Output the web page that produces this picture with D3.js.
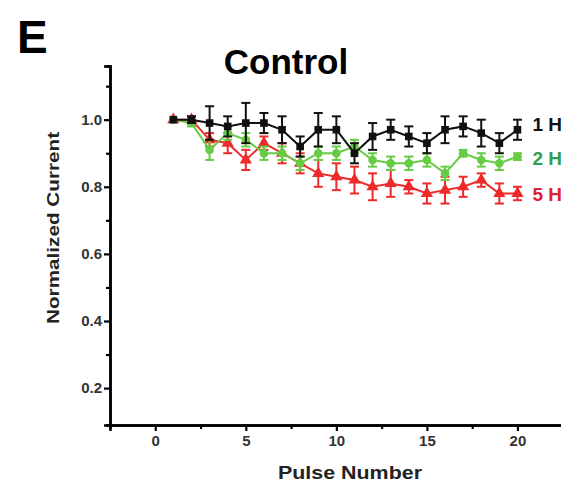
<!DOCTYPE html>
<html>
<head>
<meta charset="utf-8">
<script src="https://cdn.jsdelivr.net/npm/d3@7"></script>
<style>
  body { margin: 0; background: #fff; }
  svg { display: block; font-family: "Liberation Sans", Arial, sans-serif; }
</style>
</head>
<body>
<svg id="chart"></svg>
<script>
const pulses = d3.range(1, 21);

const hz1 = [1.00, 1.00, 0.99, 0.98, 0.99, 0.99, 0.97, 0.92, 0.97, 0.97, 0.90, 0.95, 0.97, 0.95, 0.93, 0.97, 0.98, 0.96, 0.93, 0.97];
const hz1Err = [0.00, 0.01, 0.05, 0.03, 0.06, 0.03, 0.04, 0.03, 0.05, 0.04, 0.03, 0.04, 0.03, 0.03, 0.03, 0.04, 0.03, 0.04, 0.03, 0.03];

const hz2 = [1.00, 0.99, 0.91, 0.96, 0.94, 0.90, 0.90, 0.87, 0.90, 0.90, 0.92, 0.88, 0.87, 0.87, 0.88, 0.84, 0.90, 0.88, 0.87, 0.89];
const hz2Err = [0.00, 0.01, 0.03, 0.02, 0.02, 0.02, 0.02, 0.02, 0.02, 0.02, 0.02, 0.02, 0.02, 0.02, 0.02, 0.02, 0.01, 0.02, 0.02, 0.01];

const hz5 = [1.00, 1.00, 0.94, 0.93, 0.88, 0.93, 0.90, 0.87, 0.84, 0.83, 0.82, 0.80, 0.81, 0.80, 0.78, 0.79, 0.80, 0.82, 0.78, 0.78];
const hz5Err = [0.00, 0.01, 0.02, 0.03, 0.03, 0.02, 0.03, 0.03, 0.04, 0.04, 0.04, 0.04, 0.04, 0.02, 0.03, 0.04, 0.03, 0.02, 0.03, 0.02];

const seriesNames = ['1 Hz', '2 Hz', '5 Hz'];
const yTicks = [0.2, 0.4, 0.6, 0.8, 1.0];
const xTicks = [0, 5, 10, 15, 20, 25];

const series = [
  { name: seriesNames[0], values: hz1, err: hz1Err, color: '#111', label: '#111', shape: d3.symbolSquare, dy: 1 },
  { name: seriesNames[1], values: hz2, err: hz2Err, color: '#66cc44', label: '#2e9e50', shape: d3.symbolCircle, dy: 8 },
  { name: seriesNames[2], values: hz5, err: hz5Err, color: '#ee2a2a', label: '#dd2233', shape: d3.symbolTriangle, dy: 8 }
];

const svg = d3.select('#chart').attr('width', 561).attr('height', 482);

// 1.0 -> 120px, 0.2 -> 389px
const y = d3.scaleLinear().domain([0.09, 1.16]).range([425, 66]);
const x = d3.scaleLinear().domain([-2.5, 25]).range([110, 608]);

// panel letter and title
svg.append('text').attr('x', 17).attr('y', 53)
  .style('font-size', '46px').style('font-weight', 'bold').text('E');
svg.append('text').attr('x', 286).attr('y', 74).attr('text-anchor', 'middle')
  .style('font-size', '35px').style('font-weight', 'bold').text('Control');

// axes
const yAxis = d3.axisLeft(y).tickValues(yTicks).tickSize(6).tickPadding(2).tickFormat(d3.format('.1f'));
const yMinor = d3.axisLeft(y).tickValues([0.3, 0.5, 0.7, 0.9, 1.1]).tickSize(4).tickFormat('');
const xAxis = d3.axisBottom(x).tickValues(xTicks).tickSize(6).tickPadding(4).tickFormat(d3.format('d'));
const xMinor = d3.axisBottom(x).tickValues([2.5, 7.5, 12.5, 17.5, 22.5]).tickSize(4).tickFormat('');

function styleAxis(g) {
  g.select('.domain').attr('stroke', '#000').attr('stroke-width', 2.5);
  g.selectAll('.tick line').attr('stroke', '#000').attr('stroke-width', 2.2);
  g.selectAll('.tick text').style('font-size', '15px').style('font-weight', 'bold')
    .attr('fill', '#333');
}

svg.append('g').attr('transform', `translate(${x.range()[0]},0)`).call(yMinor).call(styleAxis);
svg.append('g').attr('transform', `translate(${x.range()[0]},0)`).call(yAxis).call(styleAxis);
svg.append('g').attr('transform', `translate(0,${y.range()[0]})`).call(xMinor).call(styleAxis);
svg.append('g').attr('transform', `translate(0,${y.range()[0]})`).call(xAxis).call(styleAxis);

svg.append('text').attr('transform', 'translate(59,228) rotate(-90)').attr('text-anchor', 'middle')
  .attr('textLength', 192).attr('lengthAdjust', 'spacingAndGlyphs')
  .style('font-size', '17px').style('font-weight', 'bold').attr('fill', '#222').text('Normalized Current');
svg.append('text').attr('x', 350).attr('y', 479).attr('text-anchor', 'middle')
  .attr('textLength', 144).attr('lengthAdjust', 'spacingAndGlyphs')
  .style('font-size', '18px').style('font-weight', 'bold').attr('fill', '#222').text('Pulse Number');

// series, drawn so that black ends up on top
const line = d3.line().x(d => x(d.p)).y(d => y(d.v));

[...series].reverse().forEach(s => {
  const pts = pulses.map((p, i) => ({ p, v: s.values[i], e: s.err[i] }));
  const g = svg.append('g');

  g.append('path').datum(pts).attr('d', line)
    .attr('fill', 'none').attr('stroke', s.color).attr('stroke-width', 2);

  const eb = g.selectAll('g.err').data(pts.filter(d => d.e > 0)).enter().append('g').attr('class', 'err');
  eb.append('line')
    .attr('x1', d => x(d.p)).attr('x2', d => x(d.p))
    .attr('y1', d => y(d.v - d.e)).attr('y2', d => y(d.v + d.e))
    .attr('stroke', s.color).attr('stroke-width', 2);
  [1, -1].forEach(sign => {
    eb.append('line')
      .attr('x1', d => x(d.p) - 4.5).attr('x2', d => x(d.p) + 4.5)
      .attr('y1', d => y(d.v + sign * d.e)).attr('y2', d => y(d.v + sign * d.e))
      .attr('stroke', s.color).attr('stroke-width', 2);
  });

  g.selectAll('path.mark').data(pts).enter().append('path').attr('class', 'mark')
    .attr('d', d3.symbol().type(s.shape).size(s.shape === d3.symbolTriangle ? 65 : 58))
    .attr('transform', d => `translate(${x(d.p)},${y(d.v)})`)
    .attr('fill', s.color);

  const last = pts[pts.length - 1];
  g.append('text').attr('x', x(last.p) + 15).attr('y', y(last.v) + s.dy)
    .style('font-size', '19px').style('font-weight', 'bold').attr('fill', s.label).text(s.name);
});
</script>
</body>
</html>
